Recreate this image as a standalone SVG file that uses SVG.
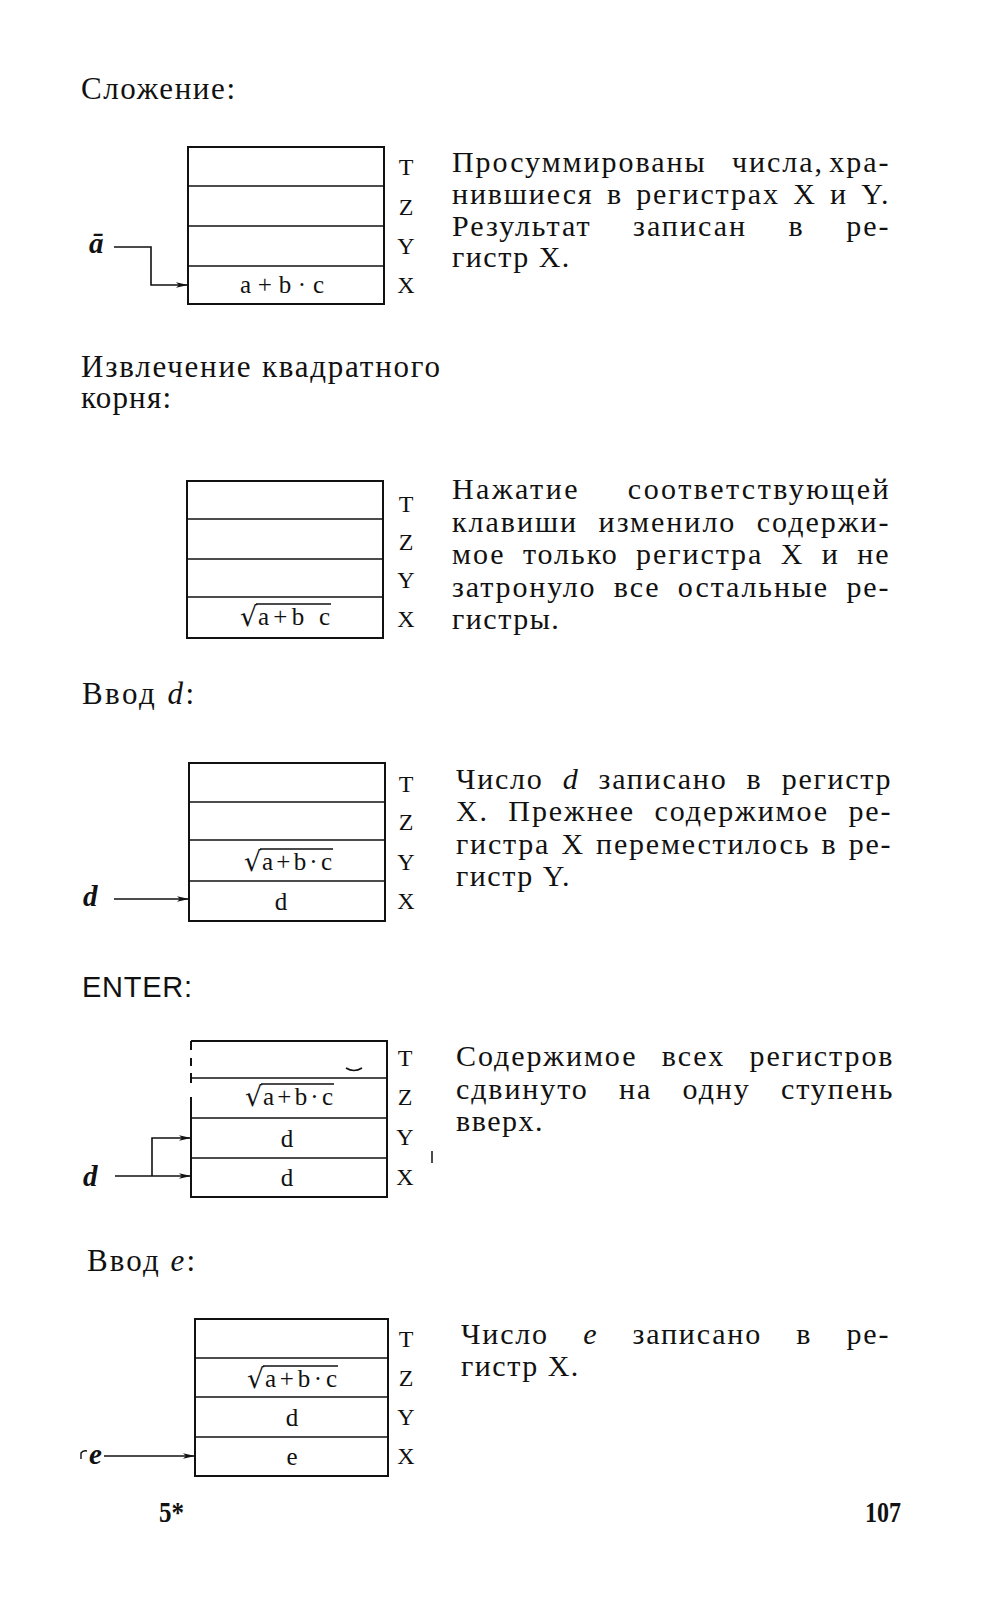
<svg xmlns="http://www.w3.org/2000/svg" width="982" height="1600" viewBox="0 0 982 1600">
<defs>
<marker id="ah" markerWidth="12" markerHeight="7" refX="11" refY="3.5" orient="auto" markerUnits="userSpaceOnUse"><path d="M0,0.8 L12,3.5 L0,6.2 L3,3.5 Z" fill="#111"/></marker>
</defs>
<style>
.h{font-family:"Liberation Serif",serif;font-size:31px;fill:#111}
.hs{font-family:"Liberation Sans",sans-serif;font-size:29px;fill:#111}
.b{font-family:"Liberation Serif",serif;font-size:30px;fill:#111;letter-spacing:0.5px}
.bl{font-family:"Liberation Serif",serif;font-size:30px;fill:#111;letter-spacing:1.5px}
.lab{font-family:"Liberation Serif",serif;font-size:24px;fill:#111;text-anchor:middle}
.cell{font-family:"Liberation Serif",serif;font-size:25px;fill:#111;text-anchor:middle}
.cs{font-family:"Liberation Serif",serif;font-size:25px;fill:#111}
.rad{font-family:"DejaVu Serif",serif;font-size:27px;fill:#111}
.reg{fill:#fff;stroke:#111;stroke-width:2}
.sep{stroke:#111;stroke-width:1.6}
.ov{stroke:#111;stroke-width:1.4}
.con{fill:none;stroke:#111;stroke-width:1.6}
.in{font-family:"Liberation Serif",serif;font-size:29px;font-style:italic;font-weight:bold;fill:#111}
.ft{font-family:"Liberation Serif",serif;font-size:29px;font-weight:bold;fill:#111}
.i{font-style:italic}
</style>

<g id="headings">
<text class="h" x="81" y="99" textLength="154" lengthAdjust="spacing">Сложение:</text>
<text class="h" x="81" y="377" textLength="359" lengthAdjust="spacing">Извлечение квадратного</text>
<text class="h" x="81" y="408" textLength="90" lengthAdjust="spacing">корня:</text>
<text class="h" x="82" y="704" textLength="112" lengthAdjust="spacing">Ввод <tspan class="i">d</tspan>:</text>
<text class="hs" x="82" y="997" textLength="110" lengthAdjust="spacing">ENTER:</text>
<text class="h" x="87" y="1271" textLength="108" lengthAdjust="spacing">Ввод <tspan class="i">e</tspan>:</text>
</g>

<g id="stack1">
<rect class="reg" x="188" y="147" width="196" height="157"/>
<line class="sep" x1="188" y1="186" x2="384" y2="186"/>
<line class="sep" x1="188" y1="226" x2="384" y2="226"/>
<line class="sep" x1="188" y1="266" x2="384" y2="266"/>
<text class="lab" x="406" y="175">T</text>
<text class="lab" x="406" y="215">Z</text>
<text class="lab" x="406" y="254">Y</text>
<text class="lab" x="406" y="293">X</text>
<text class="cs" x="240" y="293" textLength="84" lengthAdjust="spacing">a + b · c</text>
</g>

<g id="text1">
<text class="b" x="452" y="172" textLength="437" lengthAdjust="spacing">Просуммированы<tspan dx="16"> числа,</tspan><tspan dx="-4"> хра-</tspan></text>
<text class="b" x="452" y="204" textLength="437" lengthAdjust="spacing" style="word-spacing:4px">нившиеся в регистрах X и Y.</text>
<text class="b" x="452" y="236" textLength="437" lengthAdjust="spacing" style="word-spacing:32px">Результат записан в ре-</text>
<text class="bl" x="452" y="267">гистр X.</text>
</g>

<g id="stack2">
<rect class="reg" x="187" y="481" width="196" height="157"/>
<line class="sep" x1="187" y1="519" x2="383" y2="519"/>
<line class="sep" x1="187" y1="559" x2="383" y2="559"/>
<line class="sep" x1="187" y1="597" x2="383" y2="597"/>
<text class="lab" x="406" y="512">T</text>
<text class="lab" x="406" y="550">Z</text>
<text class="lab" x="406" y="588">Y</text>
<text class="lab" x="406" y="627">X</text>
<text class="rad" x="240" y="626">√</text>
<line class="ov" x1="256" y1="604" x2="331" y2="604"/>
<text class="cs" x="258" y="625" textLength="72" lengthAdjust="spacing">a+b c</text>
</g>

<g id="text2">
<text class="b" x="452" y="499" textLength="437" lengthAdjust="spacing" style="word-spacing:38px">Нажатие соответствующей</text>
<text class="b" x="452" y="532" textLength="437" lengthAdjust="spacing" style="word-spacing:11px">клавиши изменило содержи-</text>
<text class="b" x="452" y="564" textLength="437" lengthAdjust="spacing" style="word-spacing:8px">мое только регистра X и не</text>
<text class="b" x="452" y="597" textLength="437" lengthAdjust="spacing" style="word-spacing:8px">затронуло все остальные ре-</text>
<text class="bl" x="452" y="629">гистры.</text>
</g>

<g id="stack3">
<rect class="reg" x="189" y="763" width="196" height="158"/>
<line class="sep" x1="189" y1="802" x2="385" y2="802"/>
<line class="sep" x1="189" y1="840" x2="385" y2="840"/>
<line class="sep" x1="189" y1="881" x2="385" y2="881"/>
<text class="lab" x="406" y="792">T</text>
<text class="lab" x="406" y="830">Z</text>
<text class="lab" x="406" y="870">Y</text>
<text class="lab" x="406" y="909">X</text>
<text class="rad" x="244" y="871">√</text>
<line class="ov" x1="260" y1="849" x2="333" y2="849"/>
<text class="cs" x="262" y="870" textLength="70" lengthAdjust="spacing">a+b·c</text>
<text class="cell" x="281" y="910">d</text>
</g>

<g id="text3">
<text class="b" x="456" y="789" textLength="435" lengthAdjust="spacing" style="word-spacing:10px">Число <tspan class="i">d</tspan> записано в регистр</text>
<text class="b" x="456" y="821" textLength="435" lengthAdjust="spacing" style="word-spacing:10px">X. Прежнее содержимое ре-</text>
<text class="b" x="456" y="854" textLength="435" lengthAdjust="spacing" style="word-spacing:2px">гистра X переместилось в ре-</text>
<text class="bl" x="456" y="886">гистр Y.</text>
</g>

<g id="stack4">
<rect x="192" y="1042" width="194" height="154" fill="#fff"/>
<path d="M191,1041 H387 V1197 H191 V1097 M191,1041 V1050 M191,1058 V1066 M191,1073 V1083" fill="none" stroke="#111" stroke-width="2"/>
<line class="sep" x1="191" y1="1078" x2="387" y2="1078"/>
<line class="sep" x1="191" y1="1118" x2="387" y2="1118"/>
<line class="sep" x1="191" y1="1158" x2="387" y2="1158"/>
<path d="M346,1068 q8,5 16,0" fill="none" stroke="#111" stroke-width="1.6"/>
<text class="lab" x="405" y="1066">T</text>
<text class="lab" x="405" y="1105">Z</text>
<text class="lab" x="405" y="1145">Y</text>
<text class="lab" x="405" y="1185">X</text>
<text class="rad" x="245" y="1106">√</text>
<line class="ov" x1="261" y1="1084" x2="334" y2="1084"/>
<text class="cs" x="263" y="1105" textLength="70" lengthAdjust="spacing">a+b·c</text>
<text class="cell" x="287" y="1147">d</text>
<text class="cell" x="287" y="1186">d</text>
<path d="M432,1151 V1163" stroke="#111" stroke-width="1.5"/>
</g>

<g id="text4">
<text class="b" x="456" y="1066" textLength="437" lengthAdjust="spacing" style="word-spacing:15px">Содержимое всех регистров</text>
<text class="b" x="456" y="1099" textLength="437" lengthAdjust="spacing" style="word-spacing:21px">сдвинуто на одну ступень</text>
<text class="bl" x="456" y="1131">вверх.</text>
</g>

<g id="stack5">
<rect class="reg" x="195" y="1319" width="193" height="157"/>
<line class="sep" x1="195" y1="1358" x2="388" y2="1358"/>
<line class="sep" x1="195" y1="1397" x2="388" y2="1397"/>
<line class="sep" x1="195" y1="1437" x2="388" y2="1437"/>
<text class="lab" x="406" y="1347">T</text>
<text class="lab" x="406" y="1386">Z</text>
<text class="lab" x="406" y="1425">Y</text>
<text class="lab" x="406" y="1464">X</text>
<text class="rad" x="247" y="1388">√</text>
<line class="ov" x1="263" y1="1366" x2="338" y2="1366"/>
<text class="cs" x="265" y="1387" textLength="72" lengthAdjust="spacing">a+b·c</text>
<text class="cell" x="292" y="1426">d</text>
<text class="cell" x="292" y="1465">e</text>
</g>

<g id="text5">
<text class="b" x="461" y="1344" textLength="428" lengthAdjust="spacing" style="word-spacing:25px">Число <tspan class="i">e</tspan> записано в ре-</text>
<text class="bl" x="461" y="1376">гистр X.</text>
</g>

<g id="inputs">
<text class="in" x="89" y="253">ā</text>
<text class="in" x="83" y="906">d</text>
<text class="in" x="83" y="1186">d</text>
<path d="M81,1459 V1453 q2,-3 6,-2" fill="none" stroke="#111" stroke-width="1.4"/>
<text class="in" x="89" y="1464" font-weight="normal">e</text>
</g>

<g id="connectors">
<path class="con" d="M114,247 H151 V285 H187" marker-end="url(#ah)"/>
<path class="con" d="M114,899 H188" marker-end="url(#ah)"/>
<path class="con" d="M115,1176 H190" marker-end="url(#ah)"/>
<path class="con" d="M152,1176 V1138 H190" marker-end="url(#ah)"/>
<path class="con" d="M104,1456 H194" marker-end="url(#ah)"/>
</g>

<g id="footer">
<text class="ft" x="159" y="1522" textLength="25" lengthAdjust="spacingAndGlyphs">5*</text>
<text class="ft" x="865" y="1522" textLength="36" lengthAdjust="spacingAndGlyphs">107</text>
</g>
</svg>
